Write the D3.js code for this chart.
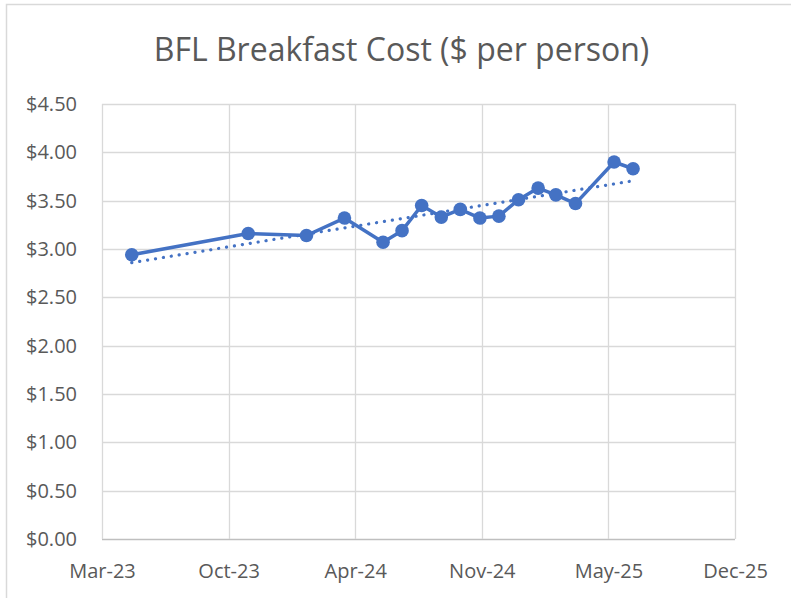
<!DOCTYPE html>
<html>
<head>
<meta charset="utf-8">
<script src="https://cdn.jsdelivr.net/npm/d3@7"></script>
<style>
  body { margin: 0; background: #fff; }
  svg { display: block; font-family: "Open Sans", sans-serif; }
</style>
</head>
<body>
<div class="main"></div>
<script>
// breakfast cost per person, roughly one reading a month
var dates = ["2023-05-01","2023-11-01","2024-02-01","2024-04-01","2024-06-01","2024-07-01",
             "2024-08-01","2024-09-01","2024-10-01","2024-11-01","2024-12-01","2025-01-01",
             "2025-02-01","2025-03-01","2025-04-01","2025-06-01","2025-07-01"];
var costs = [2.94, 3.16, 3.14, 3.32, 3.07, 3.19, 3.45, 3.33, 3.41, 3.32, 3.34, 3.51,
             3.63, 3.56, 3.47, 3.90, 3.83];
var xTicks = ["2023-03-15","2023-10-01","2024-04-18","2024-11-04","2025-05-23","2025-12-09"];
var yTicks = [0, 0.5, 1, 1.5, 2, 2.5, 3, 3.5, 4, 4.5];
var title = "BFL Breakfast Cost ($ per person)";

var width = 791, height = 598;
// plot area edges (note: "top" is taken by window.top)
var plotL = 102, plotR = 735, plotT = 104, plotB = 539;
var blue = "#4472C4", grey = "#595959", grid = "#d9d9d9";

var parse = d3.utcParse("%Y-%m-%d");
var data = dates.map(function(d, i) { return { date: parse(d), value: costs[i] }; });

var svg = d3.select("div.main").append("svg")
    .attr("width", width)
    .attr("height", height);

// chart frame
svg.append("rect")
    .attr("x", 6.5).attr("y", 4.5)
    .attr("width", 900).attr("height", 900)
    .attr("fill", "#fff")
    .attr("stroke", grid)
    .attr("stroke-width", 1.5);

svg.append("text")
    .attr("x", 401.5)
    .attr("y", 61)
    .attr("text-anchor", "middle")
    .style("font-size", "32px")
    .style("fill", grey)
    .text(title);

var x = d3.scaleUtc()
    .domain([parse(xTicks[0]), parse(xTicks[xTicks.length - 1])])
    .range([plotL, plotR]);

var y = d3.scaleLinear()
    .domain([0, 4.5])
    .range([plotB, plotT]);

// gridlines
svg.append("g")
    .selectAll("line")
    .data(yTicks)
    .enter().append("line")
    .attr("x1", plotL).attr("x2", plotR)
    .attr("y1", function(d) { return Math.round(y(d)) + 0.5; })
    .attr("y2", function(d) { return Math.round(y(d)) + 0.5; })
    .attr("stroke", function(d) { return d == 0 ? "#bfbfbf" : grid; })
    .attr("stroke-width", 1.3);

svg.append("g")
    .selectAll("line")
    .data(xTicks)
    .enter().append("line")
    .attr("x1", function(d) { return Math.round(x(parse(d))) + 0.5; })
    .attr("x2", function(d) { return Math.round(x(parse(d))) + 0.5; })
    .attr("y1", plotT).attr("y2", plotB)
    .attr("stroke", grid)
    .attr("stroke-width", 1.3);

// axes (labels only, gridlines drawn above)
var yAxis = svg.append("g")
    .attr("transform", "translate(" + plotL + ",0)")
    .call(d3.axisLeft(y).tickValues(yTicks).tickSize(0).tickPadding(25)
        .tickFormat(function(d) { return "$" + d.toFixed(2); }));

var xAxis = svg.append("g")
    .attr("transform", "translate(0," + plotB + ")")
    .call(d3.axisBottom(x).tickValues(xTicks.map(parse)).tickSize(0).tickPadding(25)
        .tickFormat(d3.utcFormat("%b-%y")));

[yAxis, xAxis].forEach(function(a) {
    a.select(".domain").remove();
    a.selectAll("text")
        .style("font-family", "'Open Sans', sans-serif")
        .style("font-size", "20px")
        .style("fill", grey);
});

// linear trendline, least squares on the points
var xs = data.map(function(d) { return +d.date; });
var mx = d3.mean(xs), my = d3.mean(costs);
var sxy = d3.sum(data, function(d) { return (+d.date - mx) * (d.value - my); });
var sxx = d3.sum(xs, function(v) { return (v - mx) * (v - mx); });
var slope = sxy / sxx;
var ends = [data[0].date, data[data.length - 1].date];

svg.append("line")
    .attr("x1", x(ends[0])).attr("y1", y(my + slope * (+ends[0] - mx)))
    .attr("x2", x(ends[1])).attr("y2", y(my + slope * (+ends[1] - mx)))
    .attr("stroke", blue)
    .attr("stroke-width", 3.2)
    .attr("stroke-linecap", "round")
    .attr("stroke-dasharray", "0.1 7.9");

var line = d3.line()
    .x(function(d) { return x(d.date); })
    .y(function(d) { return y(d.value); });

svg.append("path")
    .datum(data)
    .attr("d", line)
    .attr("fill", "none")
    .attr("stroke", blue)
    .attr("stroke-width", 3.5)
    .attr("stroke-linejoin", "round");

svg.append("g")
    .selectAll("circle")
    .data(data)
    .enter().append("circle")
    .attr("cx", function(d) { return x(d.date); })
    .attr("cy", function(d) { return y(d.value); })
    .attr("r", 6.8)
    .attr("fill", blue);
</script>
</body>
</html>
